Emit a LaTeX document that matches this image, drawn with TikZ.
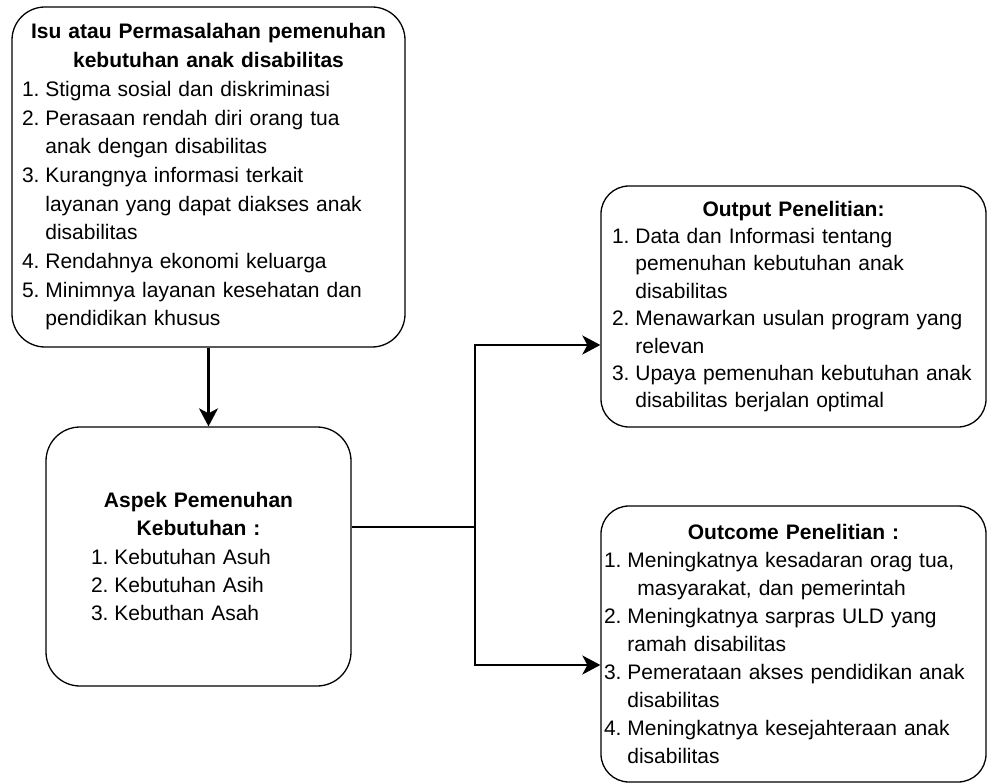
\documentclass[tikz,border=0pt]{standalone}
\usepackage{fontspec}
\setmainfont{Liberation Sans}
\usetikzlibrary{arrows.meta}
\setlength\parindent{0pt}
\newlength\itmw
\setlength\itmw{23.4pt}
% list item with hanging indent, centred bold title
\newcommand\itm[2]{\par\hangindent=\itmw\hangafter=1\noindent\makebox[\itmw][l]{#1}#2\par}
\newcommand\ttl[1]{{\centering\bfseries #1\par}}

\begin{document}
\begin{tikzpicture} [x=1pt, y=-1pt, %
  box/.style={draw, line width=1.3pt, rounded corners=30pt, align=left, inner ysep=0pt, %
    font=\fontsize{21}{28}\selectfont}, %
  conn/.style={line width=2.4pt, -{Stealth[length=18pt, width=19pt, inset=5pt]}}] %
\useasboundingbox (0,0) rectangle (987,783); %
\node [box, rounded corners=33pt, minimum width=393pt, minimum height=340pt, text width=373pt, %
  inner xsep=10pt, font=\fontsize{21}{28.7}\selectfont] (isu) at (208.5,177) {%
  \ttl{Isu atau Permasalahan pemenuhan\\ kebutuhan anak disabilitas}%
  \itm{1.}{Stigma sosial dan diskriminasi}%
  \itm{2.}{Perasaan rendah diri orang tua\newline anak dengan disabilitas}%
  \itm{3.}{Kurangnya informasi terkait\newline layanan yang dapat diakses anak\newline disabilitas}%
  \itm{4.}{Rendahnya ekonomi keluarga}%
  \itm{5.}{Minimnya layanan kesehatan dan\newline pendidikan khusus}}; %
\node [box, rounded corners=34pt, minimum width=305pt, minimum height=259pt, text width=215pt, %
  inner xsep=45pt, font=\fontsize{21}{28.3}\selectfont] (aspek) at (198.5,556.5) {%
  \ttl{Aspek Pemenuhan\\ Kebutuhan :}%
  \itm{1.}{Kebutuhan Asuh}%
  \itm{2.}{Kebutuhan Asih}%
  \itm{3.}{Kebuthan Asah}}; %
\node [box, rounded corners=28pt, minimum width=385pt, minimum height=241pt, text width=363pt, %
  inner xsep=11pt, font=\fontsize{21}{27.4}\selectfont] (output) at (793.5,306.5) {%
  \ttl{Output Penelitian:}%
  \itm{1.}{Data dan Informasi tentang\newline pemenuhan kebutuhan anak\newline disabilitas}%
  \itm{2.}{Menawarkan usulan program yang\newline relevan}%
  \itm{3.}{Upaya pemenuhan kebutuhan anak\newline disabilitas berjalan optimal}}; %
\node [box, rounded corners=28pt, minimum width=385pt, minimum height=276pt, text width=379pt, %
  inner xsep=3pt] (outcome) at (793.5,644) {%
  \ttl{Outcome Penelitian :}%
  \itm{1.}{Meningkatnya kesadaran orag tua,\newline \hspace*{10pt}masyarakat, dan pemerintah}%
  \itm{2.}{Meningkatnya sarpras ULD yang\newline ramah disabilitas}%
  \itm{3.}{Pemerataan akses pendidikan anak\newline disabilitas}%
  \itm{4.}{Meningkatnya kesejahteraan anak\newline disabilitas}}; %
 %
\coordinate (split) at (475,527); %
\coordinate (outin) at (output.west |- 0,345); %
\coordinate (outcomein) at (outcome.west |- 0,665); %
\draw [conn] (isu.south) -- (isu.south |- aspek.north); %
\draw [line width=2.4pt] (aspek.east |- split) -- (split); %
\draw [conn] (split) |- (outin); %
\draw [conn] (split) |- (outcomein); %
\end{tikzpicture}
\end{document}
